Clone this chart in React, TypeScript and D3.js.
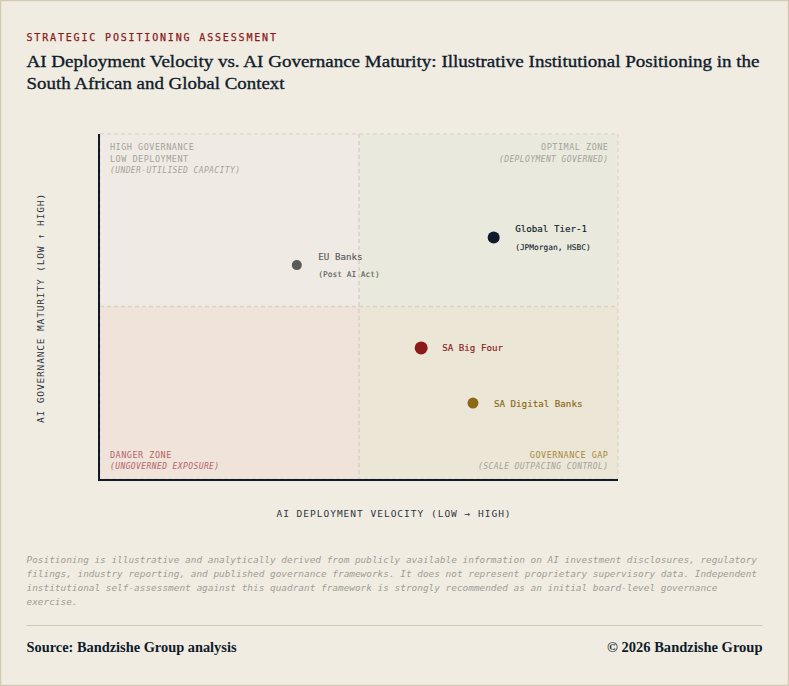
import * as d3 from "d3";

const WIDTH = 789;
const HEIGHT = 686;

const MONO = "'DejaVu Sans Mono', 'Liberation Mono', monospace";
const SERIF = "'Liberation Serif', serif";

const institutions = ["Global Tier-1", "EU Banks", "SA Big Four", "SA Digital Banks"];
const subLabels = ["(JPMorgan, HSBC)", "(Post AI Act)", "", ""];
const velocity = [76, 38, 62, 72];
const maturity = [70, 62, 38, 22];
const pointRadius = [6, 5, 6.5, 5.5];
const pointColors = ["#0f1b2a", "#5a5a5a", "#8b1a1a", "#8b6914"];
const labelGap = [15.5, 16.5, 14.5, 15.5];

const noteLines = [
  "Positioning is illustrative and analytically derived from publicly available information on AI investment disclosures, regulatory",
  "filings, industry reporting, and published governance frameworks. It does not represent proprietary supervisory data. Independent",
  "institutional self-assessment against this quadrant framework is strongly recommended as an initial board-level governance",
  "exercise.",
];

const x = d3.scaleLinear().domain([0, 100]).range([100, 618]);
const y = d3.scaleLinear().domain([0, 100]).range([479, 134]);

export default function App() {
  const midX = x(50);
  const midY = y(50);
  const dash = "4 3";
  const grid = "#d9d1c3";
  const muted = "#a5a29b";

  return (
    <svg
      width={WIDTH}
      height={HEIGHT}
      viewBox={`0 0 ${WIDTH} ${HEIGHT}`}
      style={{ position: "absolute", left: 0, top: 0, display: "block" }}
    >
      <rect x={0.5} y={0.5} width={WIDTH - 1} height={HEIGHT - 1} fill="#f0ece2" stroke="#d4c9b5" strokeWidth={1.5} />

      <text x={26.5} y={41} fontFamily={MONO} fontSize={10} fill="#8b1a1a" stroke="#8b1a1a" strokeWidth={0.25} textLength={249.5}>
        STRATEGIC POSITIONING ASSESSMENT
      </text>
      <g fontFamily={SERIF} fontSize={17.5} fill="#0f1b2a" stroke="#0f1b2a" strokeWidth={0.35}>
        <text x={26.5} y={67} textLength={733} lengthAdjust="spacingAndGlyphs">
          AI Deployment Velocity vs. AI Governance Maturity: Illustrative Institutional Positioning in the
        </text>
        <text x={26.5} y={89} textLength={258} lengthAdjust="spacingAndGlyphs">
          South African and Global Context
        </text>
      </g>

      {/* quadrants */}
      <rect x={x(0)} y={y(100)} width={midX - x(0)} height={midY - y(100)} fill="#efebe4" />
      <rect x={midX} y={y(100)} width={x(100) - midX} height={midY - y(100)} fill="#e9eadd" />
      <rect x={x(0)} y={midY} width={midX - x(0)} height={y(0) - midY} fill="#f0e3da" />
      <rect x={midX} y={midY} width={x(100) - midX} height={y(0) - midY} fill="#ece6d6" />

      <rect x={x(0)} y={y(100)} width={x(100) - x(0)} height={y(0) - y(100)} fill="none" stroke={grid} strokeWidth={1} strokeDasharray={dash} />
      <line x1={midX} x2={midX} y1={y(100)} y2={y(0)} stroke={grid} strokeWidth={1.5} strokeDasharray={dash} />
      <line x1={x(0)} x2={x(100)} y1={midY} y2={midY} stroke={grid} strokeWidth={1.5} strokeDasharray={dash} />

      {/* axes */}
      <line x1={99} x2={99} y1={y(100)} y2={481} stroke="#0f1b2a" strokeWidth={2} />
      <line x1={98} x2={x(100)} y1={480} y2={480} stroke="#0f1b2a" strokeWidth={2} />

      {/* zone labels */}
      <g fontFamily={MONO} fontSize={8.5} letterSpacing={0.5}>
        <text x={110} y={150} fill={muted}>HIGH GOVERNANCE</text>
        <text x={110} y={162} fill={muted}>LOW DEPLOYMENT</text>
        <g fontSize={8} fontStyle="italic" letterSpacing={0.4}>
          <text x={110} y={173} fill={muted}>(UNDER-UTILISED CAPACITY)</text>
          <text x={608.5} y={162} fill={muted} textAnchor="end">(DEPLOYMENT GOVERNED)</text>
          <text x={110} y={469} fill="#b5636a">(UNGOVERNED EXPOSURE)</text>
          <text x={608.5} y={469} fill={muted} textAnchor="end">(SCALE OUTPACING CONTROL)</text>
        </g>
        <text x={608.5} y={150} fill={muted} textAnchor="end">OPTIMAL ZONE</text>
        <text x={110} y={458} fill="#b5636a">DANGER ZONE</text>
        <text x={608.5} y={458} fill="#a8873f" textAnchor="end">GOVERNANCE GAP</text>
      </g>

      {/* points */}
      {institutions.map((name, i) => {
        const px = x(velocity[i]);
        const py = y(maturity[i]);
        const lx = px + pointRadius[i] + labelGap[i];
        const c = pointColors[i];
        return (
          <g key={name}>
            <circle cx={px} cy={py} r={pointRadius[i]} fill={c} />
            <text x={lx} y={subLabels[i] ? py - 5.5 : py + 3.5} fontFamily={MONO} fontSize={9.2} fill={c} stroke={c} strokeWidth={0.15}>
              {name}
            </text>
            {subLabels[i] && (
              <text x={lx} y={py + 12} fontFamily={MONO} fontSize={7.85} fill={c} stroke={c} strokeWidth={0.1}>
                {subLabels[i]}
              </text>
            )}
          </g>
        );
      })}

      {/* axis titles */}
      <text x={394} y={517} textAnchor="middle" fontFamily={MONO} fontSize={9.5} letterSpacing={1} fill="#2b3440">
        AI DEPLOYMENT VELOCITY (LOW → HIGH)
      </text>
      <text transform="translate(44,308) rotate(-90)" textAnchor="middle" fontFamily={MONO} fontSize={9.5} letterSpacing={0.85} fill="#2b3440">
        AI GOVERNANCE MATURITY (LOW ↑ HIGH)
      </text>

      {/* note */}
      <g fontFamily={MONO} fontSize={9.42} fontStyle="italic" fill="#a09d95">
        {noteLines.map((line, i) => (
          <text key={i} x={26.5} y={563 + i * 14}>{line}</text>
        ))}
      </g>

      <line x1={26.5} x2={762.5} y1={625.5} y2={625.5} stroke="#d4c9b5" strokeWidth={1} />

      <text x={26.5} y={652} fontFamily={SERIF} fontSize={14} fontWeight={700} fill="#0f1b2a" textLength={210} lengthAdjust="spacingAndGlyphs">
        Source: Bandzishe Group analysis
      </text>
      <text x={607} y={652} fontFamily={SERIF} fontSize={14} fontWeight={700} fill="#0f1b2a" textLength={155.5} lengthAdjust="spacingAndGlyphs">
        © 2026 Bandzishe Group
      </text>
    </svg>
  );
}
